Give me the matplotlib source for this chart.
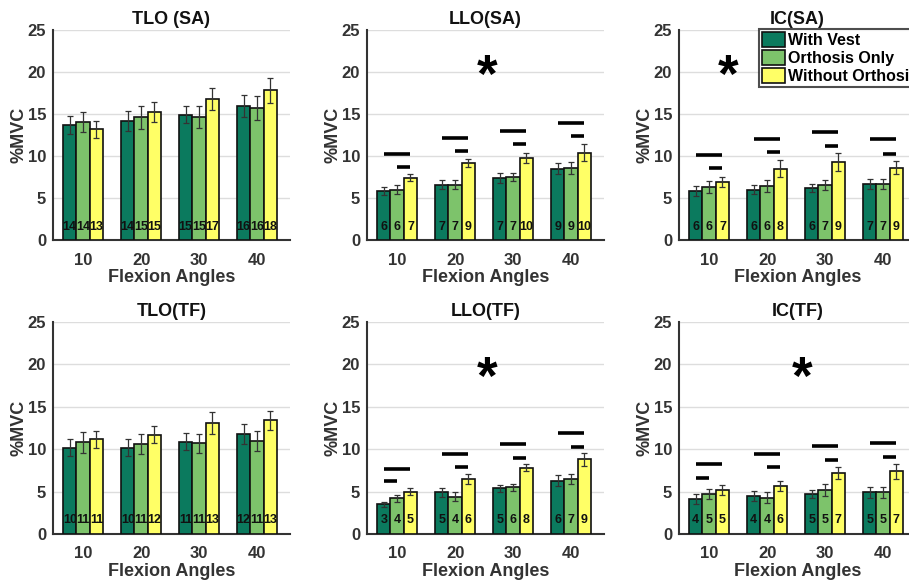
import matplotlib.pyplot as plt
import numpy as np

plt.rcParams['font.family'] = ['Liberation Sans', 'DejaVu Sans']
plt.rcParams['font.weight'] = 'bold'

# ======================================================
# Data
# ======================================================
ANGLES = ["10", "20", "30", "40"]
SERIES = ["With Vest", "Orthosis Only", "Without Orthosis"]
TITLES = ["TLO (SA)", "LLO(SA)", "IC(SA)", "TLO(TF)", "LLO(TF)", "IC(TF)"]

# means per series (With Vest, Orthosis Only, Without Orthosis) x angle
TLO_SA = [[13.7, 14.2, 14.9, 16.0], [14.0, 14.6, 14.6, 15.7], [13.2, 15.2, 16.8, 17.8]]
TLO_SA_ERR = [[1.1, 1.2, 1.0, 1.3], [1.2, 1.4, 1.3, 1.4], [1.0, 1.2, 1.3, 1.5]]
TLO_SA_LBL = [["14", "14", "15", "16"], ["14", "15", "15", "16"], ["13", "15", "17", "18"]]

LLO_SA = [[5.8, 6.6, 7.4, 8.5], [6.0, 6.6, 7.5, 8.6], [7.4, 9.2, 9.8, 10.4]]
LLO_SA_ERR = [[0.5, 0.5, 0.6, 0.7], [0.5, 0.5, 0.5, 0.7], [0.4, 0.5, 0.6, 1.0]]
LLO_SA_LBL = [["6", "7", "7", "9"], ["6", "7", "7", "9"], ["7", "9", "10", "10"]]

IC_SA = [[5.8, 6.0, 6.2, 6.7], [6.3, 6.4, 6.6, 6.7], [6.9, 8.5, 9.3, 8.6]]
IC_SA_ERR = [[0.6, 0.5, 0.5, 0.6], [0.7, 0.7, 0.6, 0.6], [0.6, 1.0, 1.1, 0.8]]
IC_SA_LBL = [["6", "6", "6", "7"], ["6", "6", "7", "7"], ["7", "8", "9", "9"]]

TLO_TF = [[10.2, 10.2, 10.9, 11.8], [10.8, 10.6, 10.7, 11.0], [11.2, 11.7, 13.1, 13.4]]
TLO_TF_ERR = [[1.0, 1.0, 1.0, 1.2], [1.2, 1.2, 1.1, 1.2], [1.0, 1.0, 1.3, 1.1]]
TLO_TF_LBL = [["10", "10", "11", "12"], ["11", "11", "11", "11"], ["11", "12", "13", "13"]]

LLO_TF = [[3.5, 4.9, 5.4, 6.3], [4.2, 4.4, 5.5, 6.5], [5.0, 6.5, 7.8, 8.8]]
LLO_TF_ERR = [[0.3, 0.5, 0.4, 0.6], [0.4, 0.5, 0.4, 0.6], [0.4, 0.6, 0.4, 0.8]]
LLO_TF_LBL = [["3", "5", "5", "6"], ["4", "4", "6", "7"], ["5", "6", "8", "9"]]

IC_TF = [[4.1, 4.5, 4.7, 4.9], [4.7, 4.3, 5.2, 4.9], [5.2, 5.7, 7.2, 7.4]]
IC_TF_ERR = [[0.6, 0.6, 0.5, 0.7], [0.6, 0.7, 0.7, 0.7], [0.6, 0.6, 0.7, 0.9]]
IC_TF_LBL = [["4", "4", "5", "5"], ["5", "4", "5", "5"], ["5", "6", "7", "7"]]

# significance lines: (angle index, from series, to series, height)
LLO_SA_SIG = [(0, 0, 2, 10.2), (0, 1, 2, 8.7), (1, 0, 2, 12.1), (1, 1, 2, 10.6),
              (2, 0, 2, 13.0), (2, 1, 2, 11.4), (3, 0, 2, 13.9), (3, 1, 2, 12.4)]
IC_SA_SIG = [(0, 0, 2, 10.1), (0, 1, 2, 8.6), (1, 0, 2, 12.0), (1, 1, 2, 10.5),
             (2, 0, 2, 12.9), (2, 1, 2, 11.2), (3, 0, 2, 12.0), (3, 1, 2, 10.2)]
LLO_TF_SIG = [(0, 0, 2, 7.7), (0, 0, 1, 6.2), (1, 0, 2, 9.4), (1, 1, 2, 7.9),
              (2, 0, 2, 10.6), (2, 1, 2, 9.0), (3, 0, 2, 11.9), (3, 1, 2, 10.3)]
IC_TF_SIG = [(0, 0, 2, 8.3), (0, 0, 1, 6.6), (1, 0, 2, 9.4), (1, 1, 2, 7.9),
             (2, 0, 2, 10.4), (2, 1, 2, 8.7), (3, 0, 2, 10.7), (3, 1, 2, 9.1)]

# ======================================================
# Style / layout
# ======================================================
COLORS = ["#0b7a5e", "#7dc36b", "#ffff66"]
BAR_W = 0.23
TEXT_C = "#333333"

panels = [
    (TLO_SA, TLO_SA_ERR, TLO_SA_LBL, [], None),
    (LLO_SA, LLO_SA_ERR, LLO_SA_LBL, LLO_SA_SIG, (2.55, 19.3)),
    (IC_SA, IC_SA_ERR, IC_SA_LBL, IC_SA_SIG, (1.32, 19.3)),
    (TLO_TF, TLO_TF_ERR, TLO_TF_LBL, [], None),
    (LLO_TF, LLO_TF_ERR, LLO_TF_LBL, LLO_TF_SIG, (2.55, 18.2)),
    (IC_TF, IC_TF_ERR, IC_TF_LBL, IC_TF_SIG, (2.6, 18.2)),
]

W, H = 909, 583
fig = plt.figure(figsize=(W / 100, H / 100), dpi=100)

col_x = [53, 367, 679]
row_y = [(30, 240), (322, 534)]
ax_w = 237

x = np.arange(1, len(ANGLES) + 1)
offsets = [-BAR_W, 0, BAR_W]

for k, (means, errs, lbls, sigs, star) in enumerate(panels):
    r, c = divmod(k, 3)
    top, bot = row_y[r]
    ax = fig.add_axes([col_x[c] / W, 1 - bot / H, ax_w / W, (bot - top) / H])

    for s in range(3):
        ax.bar(x + offsets[s], means[s], BAR_W, color=COLORS[s], edgecolor="#111111",
               linewidth=1.2, label=SERIES[s], zorder=3)
        ax.errorbar(x + offsets[s], means[s], yerr=errs[s], fmt="none", ecolor="#333333",
                    elinewidth=0.9, capsize=2.5, capthick=0.9, zorder=4)
        for i in range(len(ANGLES)):
            ax.text(x[i] + offsets[s], 1.6, lbls[s][i], ha="center", va="center",
                    fontsize=9, fontweight="bold", color="#111111", zorder=5)

    for (i, a, b, h) in sigs:
        ax.plot([x[i] + offsets[a], x[i] + offsets[b]], [h, h], color="black",
                linewidth=2.6, solid_capstyle="butt", zorder=5)

    if star is not None:
        ax.text(star[0], star[1], "*", ha="center", va="center", fontsize=38,
                fontweight="bold", color="black")

    ax.set_xlim(0.48, 4.57)
    ax.set_ylim(0, 25)
    ax.set_yticks([0, 5, 10, 15, 20, 25])
    ax.set_xticks(x)
    ax.set_xticklabels(ANGLES)
    ax.tick_params(length=0, labelsize=12, labelcolor=TEXT_C)
    ax.tick_params(axis="x", pad=9)
    ax.tick_params(axis="y", pad=5)
    for lab in ax.get_xticklabels() + ax.get_yticklabels():
        lab.set_fontweight("bold")
    ax.yaxis.grid(True, color="#dddddd", linewidth=1, zorder=0)
    ax.set_axisbelow(True)
    for sp in ["top", "right"]:
        ax.spines[sp].set_visible(False)
    for sp in ["left", "bottom"]:
        ax.spines[sp].set_color("#333333")
        ax.spines[sp].set_linewidth(1.5)

    ax.set_title(TITLES[k], fontsize=13, fontweight="bold", color="#111111", pad=4)
    ax.set_xlabel("Flexion Angles", fontsize=13, fontweight="bold", color=TEXT_C)
    ax.set_ylabel("%MVC", fontsize=13, fontweight="bold", color=TEXT_C)
    ax.yaxis.set_label_coords(-26 / ax_w, 0.5)
    ax.xaxis.set_label_coords(0.5, -29 / (bot - top))

    if k == 2:
        leg = ax.legend(loc="upper left", bbox_to_anchor=(0.338, 1.005),
                        prop={"weight": "bold", "size": 11.5}, frameon=True, fancybox=False,
                        handlelength=1.45, handleheight=1.05, handletextpad=0.15,
                        labelspacing=0.12, borderpad=0.2, borderaxespad=0)
        leg.get_frame().set_edgecolor("#222222")
        leg.get_frame().set_linewidth(1.5)
        leg.set_zorder(10)

fig.savefig("out.png", dpi=100)
